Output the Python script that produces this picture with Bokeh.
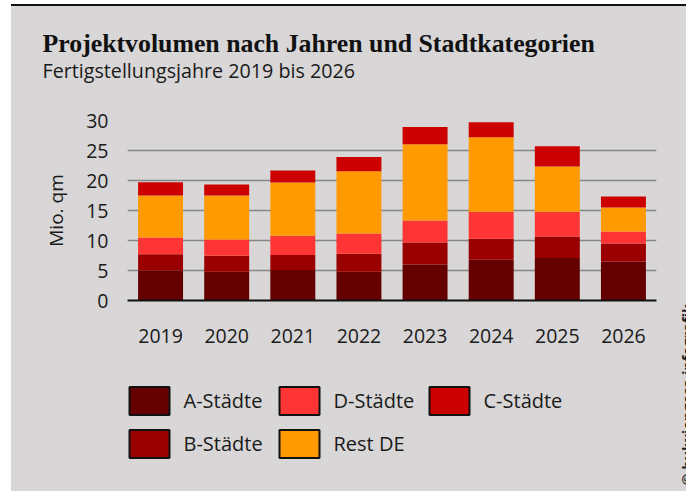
from math import pi
from bokeh.plotting import figure
from bokeh.layouts import column, row
from bokeh.models import (Range1d, FactorRange, FixedTicker, Label, Legend,
                          LegendItem, ColumnDataSource)
from bokeh.embed import file_html
from bokeh.resources import INLINE

# ---- data ----
years = ["2019", "2020", "2021", "2022", "2023", "2024", "2025", "2026"]
a_staedte = [5.0, 4.8, 5.1, 4.8, 6.0, 6.8, 7.1, 6.5]
b_staedte = [2.7, 2.65, 2.5, 3.0, 3.65, 3.5, 3.55, 3.0]
d_staedte = [2.8, 2.7, 3.2, 3.35, 3.7, 4.5, 4.15, 2.0]
rest_de = [7.0, 7.35, 8.85, 10.4, 12.7, 12.4, 7.55, 4.0]
c_staedte = [2.2, 1.85, 2.0, 2.35, 2.85, 2.5, 3.35, 1.85]
series_keys = ["a", "b", "d", "rest", "c"]
series_names = ["A-Städte", "B-Städte", "D-Städte", "Rest DE", "C-Städte"]
series_colors = ["#640000", "#9b0000", "#ff3535", "#ff9a00", "#cc0000"]
y_ticks = [0, 5, 10, 15, 20, 25, 30]
title_text = "Projektvolumen nach Jahren und Stadtkategorien"
subtitle_text = "Fertigstellungsjahre 2019 bis 2026"
y_label = "Mio. qm"
credit_text = "© bulwiengesa infografik"

BG = "#d8d6d7"
TXT = "#1a1a1a"
SANS = "Open Sans"


def blank(w, h):
    f = figure(width=w, height=h, x_range=Range1d(0, 1), y_range=Range1d(0, 1),
               x_axis_location=None, y_axis_location=None, min_border=0,
               toolbar_location=None, output_backend="svg")
    f.grid.visible = False
    f.outline_line_color = None
    f.background_fill_alpha = 0
    f.border_fill_color = BG
    return f


# ---- header: title + subtitle ----
header = blank(675, 94)
header.styles = {"border-top": "2px solid #111111"}
header.add_layout(Label(x=31, y=57.5, x_units="screen", y_units="screen",
                        text=title_text, text_font="Liberation Serif",
                        text_font_style="bold", text_font_size="25.8px",
                        text_color="#111111", text_baseline="alphabetic"))
header.add_layout(Label(x=31, y=30, x_units="screen", y_units="screen",
                        text=subtitle_text, text_font=SANS,
                        text_font_size="19.7px", text_color=TXT,
                        text_baseline="alphabetic"))

# ---- main chart ----
source = ColumnDataSource(dict(years=years, a=a_staedte, b=b_staedte,
                               d=d_staedte, rest=rest_de, c=c_staedte))
p = figure(x_range=FactorRange(*years, range_padding=0),
           y_range=Range1d(0, 30),
           width=669, height=270,
           output_backend="svg", toolbar_location=None,
           min_border_left=116, min_border_right=24,
           min_border_top=22, min_border_bottom=68)
p.background_fill_alpha = 0
p.border_fill_color = BG
p.outline_line_color = None

p.vbar_stack(series_keys, x="years", width=0.68, source=source,
             color=series_colors, line_color=None)

p.xgrid.grid_line_color = None
p.ygrid.grid_line_color = "#878787"
p.ygrid.grid_line_width = 1.6
p.ygrid.ticker = FixedTicker(ticks=y_ticks)

p.yaxis.ticker = FixedTicker(ticks=y_ticks)
p.yaxis.axis_line_color = None
p.yaxis.major_tick_line_color = None
p.yaxis.minor_tick_line_color = None
p.yaxis.major_label_standoff = 13
p.yaxis.major_label_text_font = SANS
p.yaxis.major_label_text_font_size = "19.5px"
p.yaxis.major_label_text_color = TXT
p.yaxis.axis_label = y_label
p.yaxis.axis_label_text_font = SANS
p.yaxis.axis_label_text_font_style = "normal"
p.yaxis.axis_label_text_font_size = "19px"
p.yaxis.axis_label_text_color = TXT
p.yaxis.axis_label_standoff = 14

p.xaxis.axis_line_color = "#111111"
p.xaxis.axis_line_width = 2
p.xaxis.major_tick_line_color = None
p.xaxis.minor_tick_line_color = None
p.xaxis.major_label_standoff = 22
p.xaxis.major_label_text_font = SANS
p.xaxis.major_label_text_font_size = "19.5px"
p.xaxis.major_label_text_color = TXT

# ---- legend panel ----
leg = blank(669, 123)
items = []
for name, col in zip(series_names, series_colors):
    r = leg.vbar(x=[0.5], top=[float("nan")], width=0.1, fill_color=col,
                 line_color="#111111", line_width=2)
    items.append(LegendItem(label=name, renderers=[r]))
legend = Legend(items=items, orientation="vertical", nrows=2,
                location=(-3.5, 30), glyph_width=50, glyph_height=35,
                label_standoff=10, label_width=82, spacing=8,
                padding=0, margin=0,
                border_line_color=None, background_fill_alpha=0,
                label_text_font=SANS, label_text_font_size="20px",
                label_text_color=TXT)
leg.add_layout(legend, "center")

# ---- credit strip at the right edge ----
credit = blank(6, 393)
credit.add_layout(Label(x=7, y=6, x_units="screen", y_units="screen",
                        text=credit_text, text_font=SANS,
                        text_font_style="bold", text_font_size="14.5px",
                        text_color=TXT, angle=pi / 2,
                        text_baseline="alphabetic", text_align="left"))

layout = column(header, row(column(p, leg, spacing=0), credit, spacing=0),
                spacing=0, margin=(4, 0, 0, 11))
layout.styles = {"background-color": BG}

open("out.html", "w").write(file_html(layout, INLINE))
